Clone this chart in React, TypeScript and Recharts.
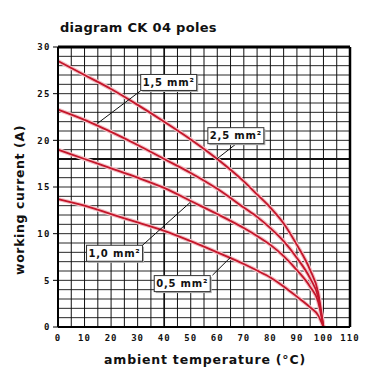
import React from 'react';
import { LineChart, Line, XAxis, YAxis, ReferenceLine, ReferenceDot, Label } from 'recharts';

const temps = [0, 10, 20, 30, 40, 50, 60, 70, 75, 80, 85, 90, 95, 98, 100];
const cur25 = [28.5, 27.0, 25.5, 23.8, 22.0, 20.1, 18.0, 15.6, 14.2, 12.8, 11.1, 8.8, 6.1, 3.7, 0];
const cur15 = [23.3, 22.2, 20.9, 19.5, 18.0, 16.5, 14.8, 12.8, 11.8, 10.6, 9.2, 7.4, 5.2, 3.2, 0];
const cur10 = [19.0, 18.0, 17.0, 16.0, 14.9, 13.5, 12.1, 10.6, 9.75, 8.8, 7.6, 6.1, 4.3, 2.7, 0];
const cur05 = [13.7, 13.0, 12.1, 11.2, 10.3, 9.2, 8.0, 6.75, 6.05, 5.3, 4.35, 3.25, 2.1, 1.25, 0];

const xTicks = [0, 10, 20, 30, 40, 50, 60, 70, 80, 90, 100, 110];
const yTicks = [0, 5, 10, 15, 20, 25, 30];
const gridX = [5, 10, 15, 20, 25, 30, 35, 40, 45, 50, 55, 60, 65, 70, 75, 80, 85, 90, 95, 100, 105];
const gridY = [1, 2, 3, 4, 5, 6, 7, 8, 9, 10, 11, 12, 13, 14, 15, 16, 17, 18, 19, 20, 21, 22, 23, 24, 25, 26, 27, 28, 29];

const seriesKeys = ['a25', 'a15', 'a10', 'a05'];

const labelNames = ['2,5 mm²', '1,5 mm²', '1,0 mm²', '0,5 mm²'];
const labelBoxX = [67.0, 41.7, 21.3, 46.8];
const labelBoxY = [20.5, 26.2, 7.9, 4.65];
const arrowFromX = [67.0, 31.1, 31.8, 58.2];
const arrowFromY = [19.6, 25.3, 8.75, 5.55];
const arrowToX = [59.8, 14.8, 50.0, 65.1];
const arrowToY = [18.0, 21.8, 13.4, 7.5];

const rows = temps.map((t, i) => ({ t, a25: cur25[i], a15: cur15[i], a10: cur10[i], a05: cur05[i] }));

const RED = '#c4162a';
const HALO = '#f4c0c6';
const FONT = '"DejaVu Sans", Verdana, sans-serif';
const MONO = '"DejaVu Sans Mono", monospace';

const makeBox = (text: string) => (props: any) => {
  const { cx, cy } = props;
  const w = 56;
  const h = 16;
  return (
    <g>
      <rect x={cx - w / 2 + 1.5} y={cy - h / 2 + 1.5} width={w} height={h} fill="#b0b0b0" />
      <rect x={cx - w / 2} y={cy - h / 2} width={w} height={h} fill="#fff" stroke="#333" strokeWidth={1} />
      <text x={cx} y={cy + 3.5} textAnchor="middle" fontFamily={FONT} fontWeight="bold" fontSize={10} letterSpacing={0.8} fill="#111">
        {text}
      </text>
    </g>
  );
};

export default function App() {
  return (
    <div style={{ position: 'absolute', left: 0, top: 0, width: 380, height: 380, background: '#fff' }}>
      <div style={{ position: 'absolute', left: 60, top: 20, fontFamily: FONT, fontWeight: 'bold', fontSize: 13, color: '#111', letterSpacing: 0.3 }}>
        diagram CK 04 poles
      </div>
      <LineChart width={380} height={380} data={rows} margin={{ top: 47, right: 30, bottom: 0, left: 0 }}>
        <XAxis
          dataKey="t"
          type="number"
          domain={[0, 110]}
          ticks={xTicks}
          height={53}
          tickLine={false}
          axisLine={{ stroke: '#000', strokeWidth: 2 }}
          tick={{ fontSize: 9, fontFamily: MONO, fontWeight: 'bold', fill: '#111', letterSpacing: 1 }}
          interval={0}
        >
          <Label
            content={(p: any) => {
              const vb = p.viewBox;
              return (
                <text x={205} y={vb.y + 37} textAnchor="middle" fontFamily={FONT} fontWeight="bold" fontSize={12.5} letterSpacing={0.8} fill="#111">
                  ambient temperature (°C)
                </text>
              );
            }}
          />
        </XAxis>
        <YAxis
          type="number"
          domain={[0, 30]}
          ticks={yTicks}
          width={58}
          tickSize={5}
          tickLine={{ stroke: '#000' }}
          axisLine={{ stroke: '#000', strokeWidth: 2 }}
          tick={{ fontSize: 9, fontFamily: MONO, fontWeight: 'bold', fill: '#111', letterSpacing: 1.5 }}
          interval={0}
        >
          <Label
            content={(p: any) => {
              const vb = p.viewBox;
              const cx = 24;
              const cy = vb.y + vb.height / 2 + 13;
              return (
                <text x={cx} y={cy} transform={`rotate(-90, ${cx}, ${cy})`} textAnchor="middle" fontFamily={FONT} fontWeight="bold" fontSize={12.5} letterSpacing={0.6} fill="#111">
                  working current (A)
                </text>
              );
            }}
          />
        </YAxis>
        {gridX.map((v) => (
          <ReferenceLine key={'gx' + v} x={v} stroke="#111" strokeWidth={v === 40 ? 1.7 : 1} />
        ))}
        {gridY.map((v) => (
          <ReferenceLine key={'gy' + v} y={v} stroke="#111" strokeWidth={v === 18 ? 2 : 0.9} />
        ))}
        <ReferenceLine y={30} stroke="#000" strokeWidth={3} />
        <ReferenceLine x={110} stroke="#000" strokeWidth={2.5} />
        {seriesKeys.map((k) => (
          <Line key={'h' + k} dataKey={k} type="monotone" stroke={HALO} strokeWidth={4} dot={false} isAnimationActive={false} />
        ))}
        {seriesKeys.map((k) => (
          <Line key={'l' + k} dataKey={k} type="monotone" stroke={RED} strokeWidth={1.8} dot={false} isAnimationActive={false} />
        ))}
        {labelNames.map((n, i) => (
          <ReferenceLine
            key={'ar' + i}
            segment={[{ x: arrowFromX[i], y: arrowFromY[i] }, { x: arrowToX[i], y: arrowToY[i] }]}
            stroke="#111"
            strokeWidth={1}
          />
        ))}
        {labelNames.map((n, i) => (
          <ReferenceDot key={'lb' + i} x={labelBoxX[i]} y={labelBoxY[i]} r={0} shape={makeBox(n)} />
        ))}
      </LineChart>
    </div>
  );
}
